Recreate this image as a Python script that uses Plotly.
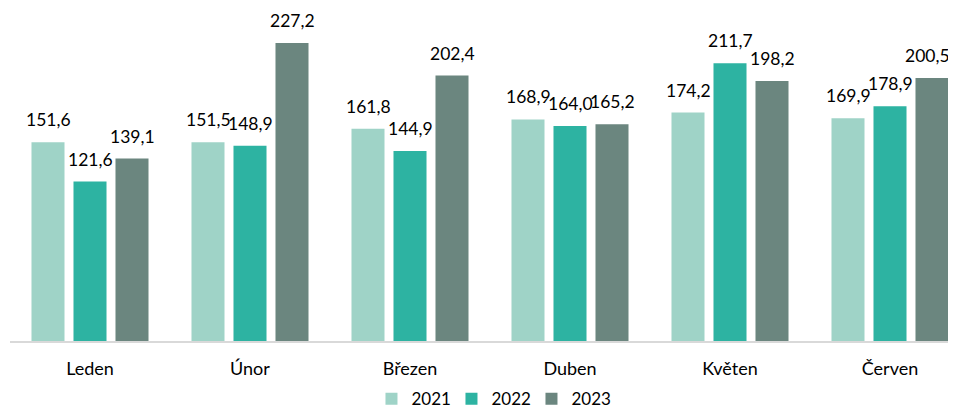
import plotly.graph_objects as go

months = ["Leden", "Únor", "Březen", "Duben", "Květen", "Červen"]
years = ["2021", "2022", "2023"]
v2021 = [151.6, 151.5, 161.8, 168.9, 174.2, 169.9]
v2022 = [121.6, 148.9, 144.9, 164.0, 211.7, 178.9]
v2023 = [139.1, 227.2, 202.4, 165.2, 198.2, 200.5]
series = [v2021, v2022, v2023]
colors = ["#9FD3C7", "#2DB3A2", "#6B867F"]

FONT = "Lato"
BARGAP = 0.2125

def fmt(v):
    return f"{v:.1f}".replace(".", ",")

fig = go.Figure()
for name, vals, col in zip(years, series, colors):
    fig.add_trace(go.Bar(
        x=months, y=vals, name=name, marker=dict(color=col, line=dict(width=0)),
        hoverinfo="skip", cliponaxis=False,
    ))

slot = (1 - BARGAP) / 3
annotations = []
for k, vals in enumerate(series):
    off = (k - 1) * slot
    for i, v in enumerate(vals):
        # keep the label at the right edge of the chart inside the visible area
        edge = (k == len(series) - 1 and i == len(vals) - 1)
        annotations.append(dict(
            x=i + off, y=v, xref="x", yref="y", text=fmt(v), showarrow=False,
            yanchor="bottom", xanchor="center", yshift=10, xshift=-5 if edge else 0,
            font=dict(family=FONT, size=17.5, color="#000000"),
        ))

fig.update_layout(
    width=948, height=400,
    margin=dict(l=2, r=0, t=0, b=67, autoexpand=False),
    paper_bgcolor="white", plot_bgcolor="white",
    barmode="group", bargap=BARGAP, bargroupgap=0.214,
    font=dict(family=FONT, size=17, color="#000000"),
    showlegend=True,
    legend=dict(orientation="h", xref="container", yref="container",
                x=0.51, xanchor="center", y=0.022, yanchor="middle",
                bgcolor="rgba(0,0,0,0)",
                font=dict(family=FONT, size=17, color="#000000"),
                itemwidth=30, tracegroupgap=0, entrywidth=35),
    annotations=annotations,
)
fig.update_xaxes(
    type="category", range=[-0.5, 5.4125], showgrid=False, zeroline=False,
    showline=True, linecolor="#D9D9D9", linewidth=1.5,
    ticks="", ticklabelstandoff=11,
    tickfont=dict(family=FONT, size=18, color="#000000"),
)
fig.update_yaxes(range=[0, 253.9], visible=False, showgrid=False, zeroline=False)

fig.write_html("out.html")
